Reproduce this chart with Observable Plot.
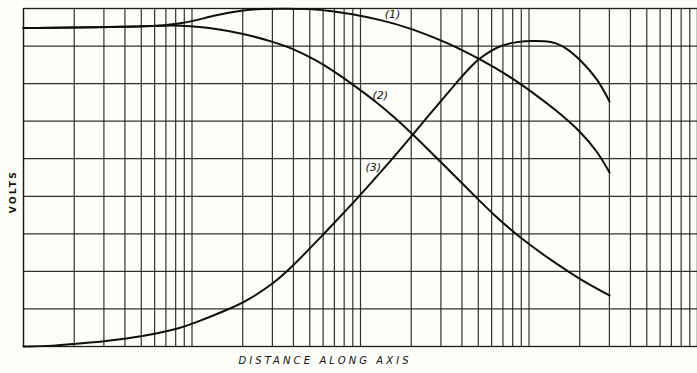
<!DOCTYPE html>
<html>
<head>
<meta charset="utf-8">
<script src="https://cdn.jsdelivr.net/npm/d3@7"></script>
<script src="https://cdn.jsdelivr.net/npm/@observablehq/plot@0.6"></script>
<style>
  html, body { margin: 0; padding: 0; background: #fdfdfa; }
  #chart svg { display: block; }
</style>
</head>
<body>
<div id="chart"></div>
<script>
// Log-scale vertical grid (semi-log paper, 4 decades)
const xGrid = [1,2,3,4,5,6,7,8,9,10,20,30,40,50,60,70,80,90,100,200,300,400,500,600,700,800,900,1000,2000,3000,4000,5000,6000,7000,8000,9000,10000];
const yGrid = [0,1,2,3,4,5,6,7,8,9];

// Curve (1)
const c1x = [1,2.86,4.95,6.96,8.55,10.5,13.8,19.4,25.5,35.9,49.1,66.4,87.3,131.5,198,328,508,820,1476,2021,2553,3006];
const c1y = [8.48,8.50,8.52,8.55,8.60,8.68,8.82,8.95,8.99,9.0,8.99,8.94,8.86,8.70,8.48,8.09,7.66,7.13,6.27,5.72,5.19,4.63];
// Curve (2)
const c2x = [1,2.86,4.95,6.96,9.8,13.8,19.9,30.5,40,55.3,68.9,87.3,126,157,206,298,408,501,615,777,1021,1476,2021,3006];
const c2y = [8.48,8.50,8.52,8.55,8.54,8.46,8.34,8.11,7.93,7.61,7.34,7.02,6.49,6.12,5.64,4.92,4.31,3.91,3.52,3.11,2.69,2.18,1.78,1.36];
// Curve (3)
const c3x = [1,1.45,2.5,4.14,6.24,8.32,10.2,16.9,21.3,30.5,38.4,55.6,87.3,100,157,206,290,392,450,508,591,678,809,1021,1253,1437,1693,2021,2553,3006];
const c3y = [0,0.01,0.1,0.21,0.35,0.48,0.61,1.01,1.22,1.68,2.08,2.82,3.75,4.04,5.03,5.66,6.46,7.15,7.45,7.67,7.87,8.01,8.10,8.14,8.13,8.09,7.93,7.63,7.13,6.52];

const labelText = ["(1)","(2)","(3)"];
const labelX = [155,131,119];
const labelY = [8.83,6.68,4.76];

const toRows = (xs, ys, name) => xs.map((x, i) => ({x, y: ys[i], name}));
const curves = [toRows(c1x, c1y, "1"), toRows(c2x, c2y, "2"), toRows(c3x, c3y, "3")];
const labels = labelText.map((t, i) => ({t, x: labelX[i], y: labelY[i]}));

const ink = "#1c1c16";
const chart = Plot.plot({
  width: 697,
  height: 373,
  marginLeft: 23,
  marginRight: 0,
  marginTop: 8,
  marginBottom: 27,
  style: {background: "#fdfdfa", fontFamily: "DejaVu Sans, sans-serif"},
  x: {type: "log", domain: [1, 10000], axis: null},
  y: {domain: [0, 9], axis: null},
  marks: [
    Plot.gridX(xGrid, {stroke: ink, strokeOpacity: 0.9, strokeWidth: 1.2}),
    Plot.gridY(yGrid, {stroke: ink, strokeOpacity: 0.9, strokeWidth: 1.2}),
    Plot.frame({stroke: ink, strokeWidth: 1.3}),
    ...curves.map(rows => Plot.line(rows, {x: "x", y: "y", curve: "basis", stroke: "#0e0e0a", strokeWidth: 2})),
    Plot.text(labels, {x: "x", y: "y", text: "t", fontSize: 11, fontStyle: "italic", fill: "#111"}),
    Plot.text(["DISTANCE ALONG AXIS"], {frameAnchor: "bottom-left", textAnchor: "start", dx: 215, dy: 17, fontSize: 10, fontStyle: "italic", fill: "#111"}),
    Plot.text(["VOLTS"], {frameAnchor: "left", textAnchor: "middle", rotate: -90, dx: -10, dy: 14, fontSize: 9, fontWeight: "bold", fill: "#111"})
  ]
});
d3.select(chart).selectAll("text").each(function() {
  const t = this.textContent;
  if (t === "DISTANCE ALONG AXIS") this.setAttribute("letter-spacing", "3.1");
  if (t === "VOLTS") this.setAttribute("letter-spacing", "2.4");
});
document.getElementById("chart").appendChild(chart);
</script>
</body>
</html>
